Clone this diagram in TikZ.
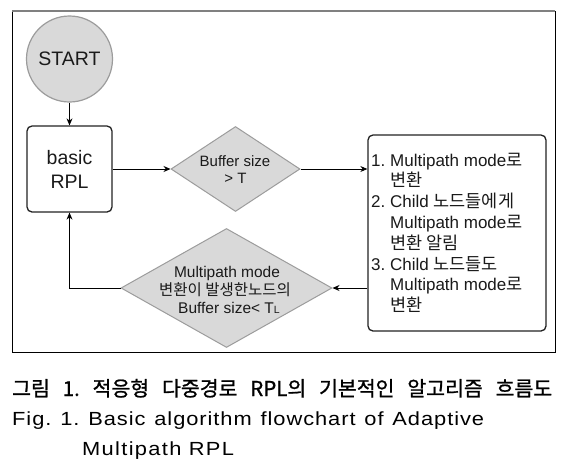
\documentclass[tikz,border=0pt]{standalone}
\usepackage{fontspec}
\setmainfont{Liberation Sans}
\newfontfamily\krf{Noto Sans CJK KR}
\newfontfamily\krcap[FakeBold=1]{Noto Sans CJK KR}
\newfontfamily\capen[LetterSpace=5,FakeStretch=1.15]{Liberation Sans}
\newfontfamily\capenb[LetterSpace=7,FakeStretch=1.15]{Liberation Sans}
\usetikzlibrary{shapes.geometric,arrows.meta}
\definecolor{dgfill}{HTML}{D9D9D9}
\definecolor{dgline}{HTML}{9C9C9C}
\definecolor{boxline}{HTML}{222222}
\definecolor{txt}{HTML}{1A1A1A}
\newcommand\krs[2]{{\fontsize{#1}{#1}\selectfont\krf #2}}
\frenchspacing
\tikzset{
  arr/.style={-{Stealth[length=7pt,width=6pt]}, line width=0.9pt, black},
  procbox/.style={draw=boxline, line width=1.3pt, rounded corners=5pt, fill=white, inner sep=0pt},
  decide/.style={diamond, draw=dgline, fill=dgfill, line width=1pt, inner sep=0pt},
  lbl/.style={inner sep=0pt, text=txt},
}
\begin{document}
\begin{tikzpicture}[x=1pt,y=-1pt]
\useasboundingbox (0,0) rectangle (574,464);
\fill[white] (0,0) rectangle (574,464);
% frame
\draw[black, line width=0.9pt] (12,11) rectangle (555,352);
\draw[gray, line width=1.6pt] (12,11) -- (555,11);

% start
\node[circle, draw=dgline, fill=dgfill, line width=1.2pt, minimum size=86pt, inner sep=0pt,
      text=txt, font=\fontsize{19.5}{19.5}\selectfont] (start) at (69.5,59) {START};

% basic RPL
\node[procbox, minimum width=85pt, minimum height=86pt] (rpl) at (69.5,169) {};
\node[lbl, anchor=base, font=\fontsize{19.5}{19.5}\selectfont] (rplA) at (69.5,164) {basic};
\node[lbl, anchor=base, font=\fontsize{19.5}{19.5}\selectfont] (rplB) at (69.5,188) {RPL};

% decision 1
\node[decide, minimum width=129pt, minimum height=85pt] (d1) at (235.5,169) {};
\node[lbl, anchor=base, font=\fontsize{15}{15}\selectfont] (d1A) at (235,166.5) {Buffer size};
\node[lbl, anchor=base, font=\fontsize{15}{15}\selectfont] (d1B) at (235.5,183.5) {> T};

% text box
\node[procbox, minimum width=178pt, minimum height=196pt] (tb) at (457,233) {};
\begin{scope}[every node/.style={lbl, anchor=base west, font=\fontsize{17}{17}\selectfont}]
\node (t1) at (371,166) {1.};
\node (t1a) at (390,166) {Multipath mode\krs{17.5}{로}};
\node (t2) at (390,186.8) {\krs{17.5}{변환}};
\node (t3) at (371,207.6) {2.};
\node (t3a) at (390,207.6) {Child \krs{17.5}{노드들에게}};
\node (t4) at (390,228.4) {Multipath mode\krs{17.5}{로}};
\node (t5) at (390,249.2) {\krs{17.5}{변환 알림}};
\node (t6) at (371,270) {3.};
\node (t6a) at (390,270) {Child \krs{17.5}{노드들도}};
\node (t7) at (390,290.8) {Multipath mode\krs{17.5}{로}};
\node (t8) at (390,311.6) {\krs{17.5}{변환}};
\end{scope}

% decision 2
\node[decide, minimum width=211pt, minimum height=119pt] (d2) at (226.5,288) {};
\node[lbl, anchor=base, font=\fontsize{15.5}{15.5}\selectfont] (d2A) at (227,277) {Multipath mode};
\node[lbl, anchor=base] (d2B) at (225,295.5) {\krs{15.5}{변환이 발생한노드의}};
\node[lbl, anchor=base, font=\fontsize{15.5}{15.5}\selectfont] (d2C) at (229,313) {Buffer size< T{\fontsize{10.5}{10.5}\selectfont L}};

% connectors
\draw[arr] (start) -- (rpl);
\draw[arr] (rpl) -- (d1);
\draw[arr] (d1.east) -- (tb.west |- d1.east);
\draw[arr] (tb.west |- d2.east) -- (d2.east);
\draw[arr] (d2.west) -| (rpl.south);

% caption
\node[inner sep=0pt, anchor=base west] (cap1) at (12,396)
  {\fontsize{20.5}{20.5}\selectfont\krcap\makebox[540pt][s]{그림 1. 적응형 다중경로 RPL의 기본적인 알고리즘 흐름도}};
\node[inner sep=0pt, anchor=base west] (cap2) at (12,425)
  {\fontsize{19}{19}\selectfont\capen\makebox[472pt][s]{Fig. 1. Basic algorithm flowchart of Adaptive}};
\node[inner sep=0pt, anchor=base west] (cap3) at (82,455)
  {\fontsize{19}{19}\selectfont\capenb Multipath RPL};
\end{tikzpicture}
\end{document}
